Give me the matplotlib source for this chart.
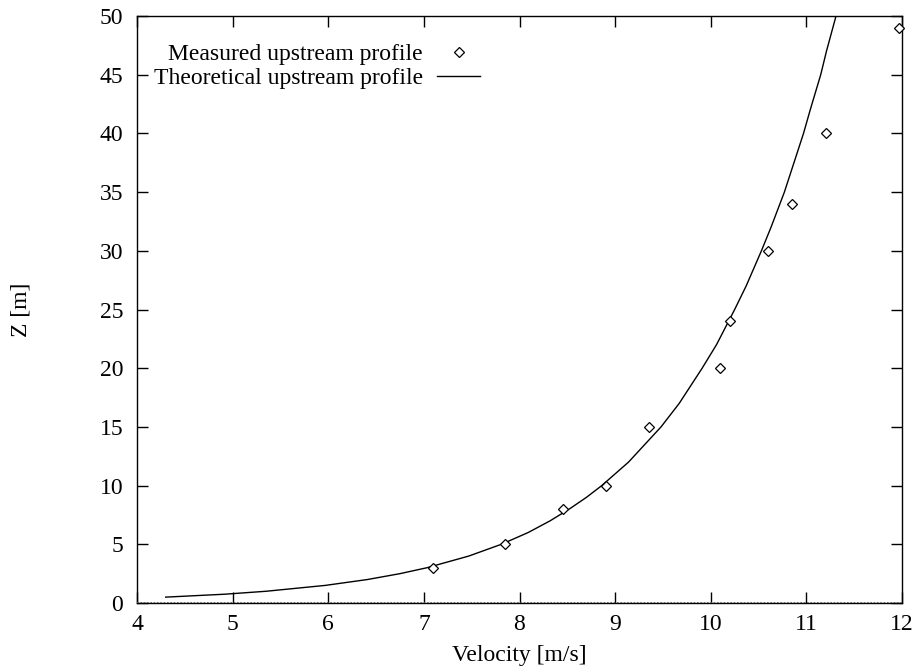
import matplotlib
matplotlib.use("Agg")
import matplotlib.pyplot as plt

plt.rcParams.update(
    {
        "font.family": "Liberation Serif",
        "font.size": 17,
        "xtick.direction": "in",
        "ytick.direction": "in",
        "xtick.top": True,
        "ytick.right": True,
    }
)

# measured upstream profile
meas_v = [7.1, 7.85, 8.45, 8.9, 9.35, 10.1, 10.2, 10.6, 10.85, 11.2, 11.97]
meas_z = [3, 5, 8, 10, 15, 20, 24, 30, 34, 40, 49]

# theoretical upstream profile
theo_z = [0.5, 0.75, 1, 1.5, 2, 2.5, 3, 4, 5, 6, 7, 8, 9, 10, 12, 15, 17, 20,
          22, 25, 27, 30, 32, 35, 37, 40, 42, 45, 47, 50, 51]
theo_v = [4.30, 4.92, 5.35, 5.97, 6.41, 6.75, 7.03, 7.47, 7.81, 8.09, 8.32,
          8.52, 8.70, 8.86, 9.14, 9.48, 9.67, 9.91, 10.06, 10.25, 10.37, 10.53,
          10.63, 10.77, 10.85, 10.97, 11.04, 11.15, 11.21, 11.31, 11.34]

xticks = [4, 5, 6, 7, 8, 9, 10, 11, 12]
yticks = [0, 5, 10, 15, 20, 25, 30, 35, 40, 45, 50]

fig = plt.figure(figsize=(9.14, 6.68), dpi=100)
ax = fig.add_axes([137 / 914, 65 / 668, 765 / 914, 587 / 668])

ax.plot(meas_v, meas_z, linestyle="none", marker="D", markersize=5,
        markerfacecolor="white", markeredgecolor="black", markeredgewidth=0.9,
        label="Measured upstream profile", clip_on=False, zorder=3)
ax.plot(theo_v, theo_z, color="black", linewidth=1.0,
        label="Theoretical upstream profile")
# gnuplot-style dotted zero axis on top of the border
ax.axhline(0, color="0.35", linewidth=1.2, linestyle=(0, (1, 1)), zorder=4)

ax.set_xlim(4, 12)
ax.set_ylim(0, 50)
ax.set_xticks(xticks)
ax.set_yticks(yticks)
ax.tick_params(length=8, width=1, labelsize=17)
ax.tick_params(axis="x", pad=8)
ax.tick_params(axis="y", pad=10)
for s in ax.spines.values():
    s.set_linewidth(1)

ax.set_xlabel("Velocity [m/s]", fontsize=17, labelpad=7)
ax.set_ylabel("Z [m]", fontsize=17, va="center")
ax.yaxis.set_label_coords((21 - 137) / 765, 0.5)

leg = ax.legend(loc="upper right", bbox_to_anchor=(343 / 765, 0.953),
                frameon=False, markerfirst=False, fontsize=17,
                handlelength=1.82, handletextpad=0.6, labelspacing=0.1,
                borderaxespad=0, borderpad=0, numpoints=1)
for t in leg.get_texts():
    t.set_ha("right")

fig.savefig("out.png", dpi=100)
